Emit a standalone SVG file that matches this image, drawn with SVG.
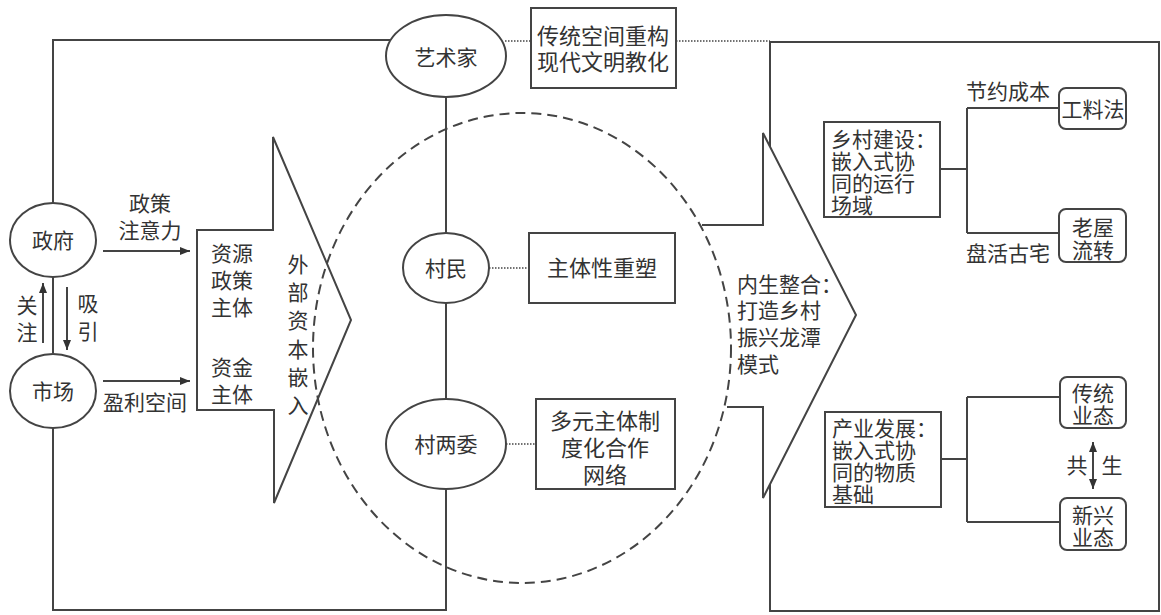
<svg xmlns="http://www.w3.org/2000/svg" width="1161" height="615" viewBox="0 0 1161 615">
<style>
.ln{fill:none;stroke:#444;stroke-width:2}
.dot{fill:none;stroke:#444;stroke-width:1.6;stroke-dasharray:1.5 1.5}
.dash{fill:none;stroke:#444;stroke-width:2;stroke-dasharray:10 6}
.nd{fill:#fff;stroke:#444;stroke-width:2}
.bx{fill:none;stroke:#444;stroke-width:2}
text{font-family:"Liberation Sans","Noto Sans CJK SC","Noto Sans CJK TC",sans-serif;font-size:21px;fill:#333;dominant-baseline:central}
.c{text-anchor:middle}
.b{font-size:22px}
</style>
<defs>
<marker id="ah" markerWidth="10" markerHeight="8" refX="10" refY="4" orient="auto" markerUnits="userSpaceOnUse">
<path d="M0,0 L10,4 L0,8 Z" fill="#333"/>
</marker>
<marker id="ahs" markerWidth="10" markerHeight="8" refX="0" refY="4" orient="auto" markerUnits="userSpaceOnUse">
<path d="M10,0 L0,4 L10,8 Z" fill="#333"/>
</marker>
</defs>
<rect width="1161" height="615" fill="#fff"/>
<g id="connectors">
<path class="ln" d="M53,203 L53,40 L391,40"/>
<path class="ln" d="M53,428 L53,610 L446,610 L446,490"/>
<path class="ln" d="M53,277 L53,353"/>
<path class="ln" d="M446,97 L446,233 M446,303 L446,399"/>
<path class="dot" d="M505,41 L531,41 M676,41 L770,41"/>
<path class="dot" d="M489,268 L529,268"/>
<path class="dot" d="M506,444 L536,444"/>
<path class="ln" d="M103,251 L190,251" marker-end="url(#ah)"/>
<path class="ln" d="M103,381 L190,381" marker-end="url(#ah)"/>
<path class="ln" d="M43,343 L43,283" marker-end="url(#ah)"/>
<path class="ln" d="M67,287 L67,350" marker-end="url(#ah)"/>
<path class="ln" d="M770,147 L770,42 L1159,42 L1159,611 L770,611 L770,484"/>
<path class="ln" d="M940,169 L967,169 M967,108 L967,233 M967,108 L1059,108 M967,233 L1059,233"/>
<path class="ln" d="M941,459 L967,459 M967,397 L967,522 M967,397 L1060,397 M967,522 L1060,522"/>
<path class="ln" d="M1093,442 L1093,489" marker-start="url(#ahs)" marker-end="url(#ah)"/>
</g>
<g id="ellipse-zone">
<ellipse class="dash" cx="522" cy="348" rx="209" ry="235"/>
</g>
<g id="arrow-external">
<path class="ln" d="M273,137 L351,320 L274,503 L274,410 L197,410 L197,230 L273,230 Z"/>
<text class="c" x="232" y="253"><tspan x="232" y="253">资源</tspan><tspan x="232" y="280">政策</tspan><tspan x="232" y="307">主体</tspan></text>
<text class="c" x="232" y="367"><tspan x="232" y="367">资金</tspan><tspan x="232" y="394">主体</tspan></text>
<text class="c" x="298" y="264"><tspan x="298" y="264">外</tspan><tspan x="298" y="292">部</tspan><tspan x="298" y="320">资</tspan><tspan x="298" y="349">本</tspan><tspan x="298" y="377">嵌</tspan><tspan x="298" y="405">入</tspan></text>
</g>
<g id="arrow-internal">
<path class="ln" d="M702,225 L763,225 L763,133 L856,315 L763,498 L763,407 L727,407"/>
<text x="737" y="284"><tspan x="737" y="284">内生整合：</tspan><tspan x="737" y="310">打造乡村</tspan><tspan x="737" y="337">振兴龙潭</tspan><tspan x="737" y="364">模式</tspan></text>
</g>
<g id="labels">
<text class="c" x="150" y="203"><tspan x="150" y="203">政策</tspan><tspan x="150" y="230">注意力</tspan></text>
<text class="c" x="145" y="402">盈利空间</text>
<text class="c" x="27" y="305"><tspan x="27" y="305">关</tspan><tspan x="27" y="332">注</tspan></text>
<text class="c" x="88" y="303"><tspan x="88" y="303">吸</tspan><tspan x="88" y="331">引</tspan></text>
<text class="c" x="1008" y="91">节约成本</text>
<text class="c" x="1008" y="253">盘活古宅</text>
<text class="c" x="1077" y="465">共</text>
<text class="c" x="1112" y="465">生</text>
</g>
<g id="gov">
<ellipse class="nd" cx="53" cy="240" rx="43" ry="37"/>
<text class="c" x="53" y="240">政府</text>
</g>
<g id="market">
<ellipse class="nd" cx="53" cy="391" rx="43" ry="37"/>
<text class="c" x="53" y="391">市场</text>
</g>
<g id="artist">
<ellipse class="nd" cx="446" cy="56" rx="60" ry="41"/>
<text class="c" x="446" y="57">艺术家</text>
</g>
<g id="villagers">
<ellipse class="nd" cx="446" cy="268" rx="43" ry="35"/>
<text class="c" x="446" y="268">村民</text>
</g>
<g id="committee">
<ellipse class="nd" cx="446" cy="444" rx="60" ry="45"/>
<text class="c" x="446" y="444">村两委</text>
</g>
<g id="box-space">
<rect class="bx" x="531" y="8" width="145" height="80"/>
<text class="c b" x="603" y="36"><tspan x="603" y="36">传统空间重构</tspan><tspan x="603" y="62">现代文明教化</tspan></text>
</g>
<g id="box-subject">
<rect class="bx" x="529" y="233" width="146" height="70"/>
<text class="c b" x="602" y="268">主体性重塑</text>
</g>
<g id="box-network">
<rect class="bx" x="536" y="399" width="139" height="90"/>
<text class="c b" x="605" y="421"><tspan x="605" y="421">多元主体制</tspan><tspan x="605" y="448">度化合作</tspan><tspan x="605" y="475">网络</tspan></text>
</g>
<g id="box-rural">
<rect class="bx" x="824" y="122" width="116" height="95"/>
<text x="831" y="139"><tspan x="831" y="139">乡村建设：</tspan><tspan x="831" y="161">嵌入式协</tspan><tspan x="831" y="183">同的运行</tspan><tspan x="831" y="205">场域</tspan></text>
</g>
<g id="box-industry">
<rect class="bx" x="825" y="412" width="116" height="95"/>
<text x="832" y="428"><tspan x="832" y="428">产业发展：</tspan><tspan x="832" y="450">嵌入式协</tspan><tspan x="832" y="472">同的物质</tspan><tspan x="832" y="494">基础</tspan></text>
</g>
<g id="box-gongliao">
<rect class="bx" x="1059" y="88" width="67" height="41" rx="7"/>
<text class="c" x="1093" y="109">工料法</text>
</g>
<g id="box-oldhouse">
<rect class="bx" x="1059" y="209" width="67" height="53" rx="7"/>
<text class="c" x="1093" y="227"><tspan x="1093" y="227">老屋</tspan><tspan x="1093" y="250">流转</tspan></text>
</g>
<g id="box-traditional">
<rect class="bx" x="1060" y="377" width="66" height="51" rx="7"/>
<text class="c" x="1093" y="393"><tspan x="1093" y="393">传统</tspan><tspan x="1093" y="415">业态</tspan></text>
</g>
<g id="box-emerging">
<rect class="bx" x="1060" y="498" width="66" height="52" rx="7"/>
<text class="c" x="1093" y="515"><tspan x="1093" y="515">新兴</tspan><tspan x="1093" y="537">业态</tspan></text>
</g>
</svg>
